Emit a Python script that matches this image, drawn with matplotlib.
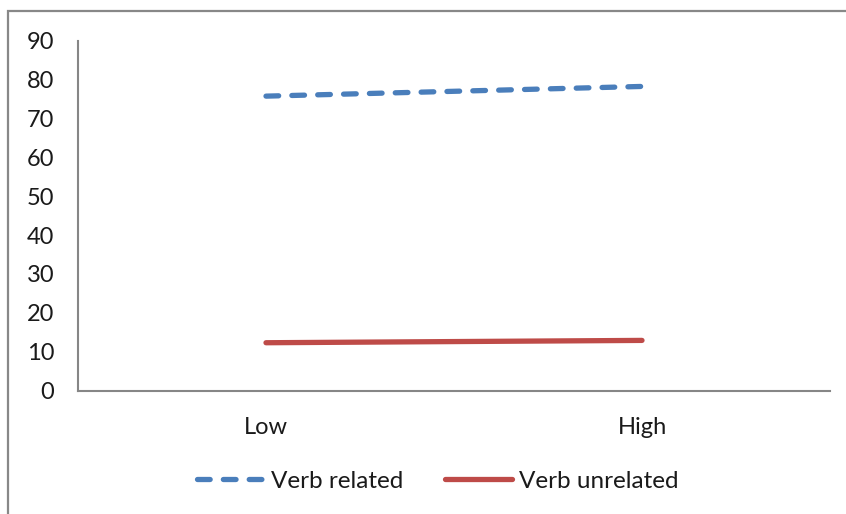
import matplotlib.pyplot as plt
from matplotlib.patches import Rectangle

# data
categories = ['Low', 'High']
verb_related = [75.8, 78.3]
verb_unrelated = [12.3, 12.9]
y_ticks = [0, 10, 20, 30, 40, 50, 60, 70, 80, 90]

plt.rcParams['font.family'] = ['Lato', 'DejaVu Sans']
plt.rcParams['font.size'] = 17

fig = plt.figure(figsize=(8.46, 5.14), dpi=100)
ax = fig.add_axes([78 / 846, (514 - 390.5) / 514, (830 - 78) / 846, (390.5 - 41) / 514])

x = list(range(len(categories)))
ax.plot(x, verb_related, color='#4a7ebb', lw=3.8, linestyle=(0, (2.4, 2.5)),
        dash_capstyle='round', solid_capstyle='round', label='Verb related')
ax.plot(x, verb_unrelated, color='#be4b48', lw=3.8, solid_capstyle='round',
        label='Verb unrelated')

ax.set_xlim(-0.5, len(categories) - 0.5)
ax.set_ylim(0, 90)
ax.set_yticks(y_ticks)
ax.set_xticks(x)
ax.set_xticklabels(categories)
ax.tick_params(axis='y', length=0, pad=17, labelcolor='#1a1a1a')
ax.tick_params(axis='x', length=0, pad=19, labelcolor='#1a1a1a')

for side in ['top', 'right']:
    ax.spines[side].set_visible(False)
for side in ['left', 'bottom']:
    ax.spines[side].set_color('#868686')
    ax.spines[side].set_linewidth(1.5)

leg = fig.legend(loc='center', bbox_to_anchor=(438 / 846, 1 - 481 / 514), ncol=2,
                 frameon=False, handlelength=2.75, handletextpad=0.3, columnspacing=1.7,
                 fontsize=17.5)
for t in leg.get_texts():
    t.set_color('#1a1a1a')

# outer chart border, cut off at right and bottom like the reference
fig.patches.append(Rectangle((8 / 846, -0.1), 1.2, 1 - 11 / 514 + 0.1,
                             transform=fig.transFigure, fill=False,
                             edgecolor='#888888', lw=1.6))

fig.savefig('out.png', dpi=100)
